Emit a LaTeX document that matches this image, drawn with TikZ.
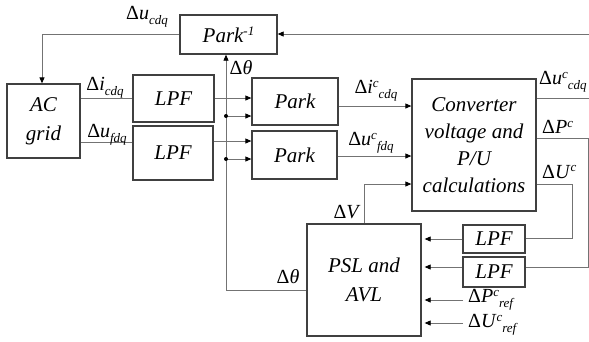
\documentclass[tikz,border=0pt]{standalone}
\usepackage{fontspec}
\setmainfont{Liberation Serif}
\usetikzlibrary{arrows.meta}
\newcommand\sbx[1]{\raisebox{-0.25em}{\fontsize{13}{13}\selectfont\itshape #1}}
\newcommand\spx[1]{\raisebox{0.33em}{\fontsize{13}{13}\selectfont\itshape #1}}
\begin{document}
\begin{tikzpicture}[x=1pt,y=-1pt,
  blk/.style={draw=black!75,line width=1.3pt,minimum width=#1,inner sep=0pt,
    font=\fontsize{21}{27}\selectfont\itshape,align=center},
  conn/.style={draw=black!55,line width=0.8pt},
  arr/.style={conn,-{Triangle[length=6pt,width=5pt,fill=black,color=black]}},
  lbl/.style={font=\fontsize{20}{24}\selectfont,inner sep=0pt},
  dotn/.style={circle,fill=black,inner sep=0pt,minimum size=4pt}]
\useasboundingbox (0,0) rectangle (589,341);
% blocks
\node[blk=97pt,minimum height=39pt] (parkinv) at (228.5,34.5) {Park\spx{-1}};
\node[blk=73pt,minimum height=74pt,font=\fontsize{21}{29}\selectfont\itshape] (grid) at (43.5,121) {AC\\grid};
\node[blk=81pt,minimum height=47pt] (lpf1) at (173.5,98.5) {LPF};
\node[blk=80pt,minimum height=54pt] (lpf2) at (173,153) {LPF};
\node[blk=86pt,minimum height=47pt] (park1) at (295,101.5) {Park};
\node[blk=85pt,minimum height=48pt] (park2) at (294.5,155) {Park};
\node[blk=124pt,minimum height=132pt] (conv) at (474,145) {Converter\\voltage and\\P/U\\calculations};
\node[blk=114pt,minimum height=112pt,font=\fontsize{21}{29}\selectfont\itshape] (psl) at (364,280) {PSL and\\AVL};
\node[blk=62pt,minimum height=28pt] (lpfa) at (494,239) {LPF};
\node[blk=62pt,minimum height=30pt] (lpfb) at (494,272) {LPF};
% helper coordinates
\coordinate (thetaB) at (226,290);
\coordinate (d1) at (226,116);
\coordinate (d2) at (226,159);
\coordinate (outR) at (600,98);
\coordinate (topR) at (600,34);
\coordinate (pR) at (588,138);
\coordinate (pRb) at (588,267);
\coordinate (uR) at (572,184);
\coordinate (uRb) at (572,238);
\coordinate (vT) at (364,184);
\coordinate (pref) at (463,300);
\coordinate (uref) at (463,323);
% connectors
\draw[arr] (conv.east |- outR) -- (outR) -- (topR) -- (parkinv.east |- topR);
\draw[arr] (parkinv.west) -- (42,34.5) -- (grid.north -| 42,0);
\draw[conn] (grid.east |- 0,98) -- (lpf1.west |- 0,98);
\draw[conn] (grid.east |- 0,142) -- (lpf2.west |- 0,142);
\draw[arr] (lpf1.east |- 0,98) -- (park1.west |- 0,98);
\draw[arr] (lpf2.east |- 0,141) -- (park2.west |- 0,141);
\draw[arr] (psl.west |- thetaB) -- (thetaB) -- (parkinv.south -| thetaB);
\draw[arr] (d1) -- (park1.west |- d1);
\draw[arr] (d2) -- (park2.west |- d2);
\node[dotn] at (d1) {};
\node[dotn] at (d2) {};
\draw[arr] (park1.east |- 0,106) -- (conv.west |- 0,106);
\draw[arr] (park2.east |- 0,156) -- (conv.west |- 0,156);
\draw[arr] (psl.north -| vT) -- (vT) -- (conv.west |- vT);
\draw[conn] (conv.east |- pR) -- (pR) -- (pRb) -- (lpfb.east |- pRb);
\draw[conn] (conv.east |- uR) -- (uR) -- (uRb) -- (lpfa.east |- uRb);
\draw[arr] (lpfa.west |- 0,239) -- ([xshift=3pt]psl.east |- 0,239);
\draw[arr] (lpfb.west |- 0,267) -- ([xshift=3pt]psl.east |- 0,267);
\draw[arr] (pref) -- ([xshift=3pt]psl.east |- pref);
\draw[arr] (uref) -- ([xshift=3pt]psl.east |- uref);
% labels
\node[lbl] (l1) at (147,17) {Δ\textit{u}\sbx{cdq}};
\node[lbl] (l2) at (241,68) {Δ\textit{θ}};
\node[lbl] (l3) at (105,88) {Δ\textit{i}\sbx{cdq}};
\node[lbl] (l4) at (107,135) {Δ\textit{u}\sbx{fdq}};
\node[lbl] (l5) at (376,91) {Δ\textit{i}\spx{c}\sbx{cdq}};
\node[lbl] (l6) at (371,143) {Δ\textit{u}\spx{c}\sbx{fdq}};
\node[lbl,anchor=west] (l7) at (539,82) {Δ\textit{u}\spx{c}\sbx{cdq}};
\node[lbl,anchor=west] (l8) at (542,127) {Δ\textit{P}\spx{c}};
\node[lbl,anchor=west] (l9) at (542,172) {Δ\textit{U}\spx{c}};
\node[lbl] (l10) at (347,212) {Δ\textit{V}};
\node[lbl] (l11) at (288,277) {Δ\textit{θ}};
\node[lbl,anchor=west] (l12) at (468,300) {Δ\textit{P}\spx{c}\sbx{ref}};
\node[lbl,anchor=west] (l13) at (468,325) {Δ\textit{U}\spx{c}\sbx{ref}};
\end{tikzpicture}
\end{document}
